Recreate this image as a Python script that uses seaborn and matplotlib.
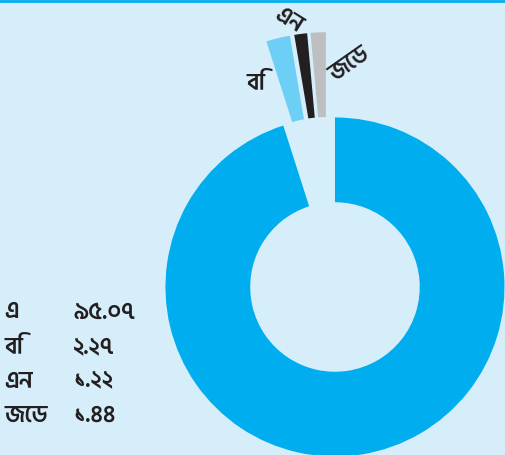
import seaborn as sns
import matplotlib.pyplot as plt
from matplotlib.lines import Line2D

labels = ["এ", "বি", "এন", "জেড"]
values = [95.07, 2.27, 1.22, 1.44]
value_text = ["৯৫.০৭", "২.২৭", "১.২২", "১.৪৪"]
colors = ["#00adef", "#6dcff6", "#231f20", "#bcbec0"]
bg = "#d5eefa"

sns.set_theme(style="white")
plt.rcParams["font.family"] = ["Hind Siliguri", "Noto Sans Bengali", "DejaVu Sans"]

fig = plt.figure(figsize=(5.05, 4.55), dpi=100, facecolor=bg)
ax = fig.add_axes([0, 0, 1, 1])
ax.set_facecolor(bg)

# big slice stays put, the three small ones are pulled out together
ax.pie(values, startangle=90, counterclock=False, radius=1,
       colors=[colors[0], "none", "none", "none"],
       wedgeprops=dict(width=0.5, linewidth=0))
ax.pie(values, startangle=90, counterclock=False, radius=1,
       center=(-0.043, 0.263), explode=[0, 0.24, 0.24, 0.24],
       colors=["none"] + colors[1:],
       wedgeprops=dict(width=0.5, linewidth=0))

ax.set_xlim(-1.976, 1.003)
ax.set_ylim(-0.991, 1.693)
ax.set_aspect("equal")
ax.axis("off")

txt = dict(fontsize=17, fontweight=600, color="#231f20")
ax.text(-0.466, 1.204, labels[1], ha="center", va="center", **txt)
ax.text(-0.271, 1.575, labels[2], ha="center", va="center", rotation=-32, **txt)
ax.text(0.083, 1.316, labels[3], ha="center", va="center", rotation=35, **txt)

for i, (lab, val) in enumerate(zip(labels, value_text)):
    y = 1 - (312 + i * 34.5) / 455
    fig.text(4 / 505, y, lab, ha="left", va="center", **txt)
    fig.text(73 / 505, y, val, ha="left", va="center", **txt)

fig.add_artist(Line2D([0, 1], [1 - 1.2 / 455, 1 - 1.2 / 455], color="#00aeef",
                      linewidth=2, transform=fig.transFigure))

fig.savefig("out.png", dpi=100, facecolor=bg)
